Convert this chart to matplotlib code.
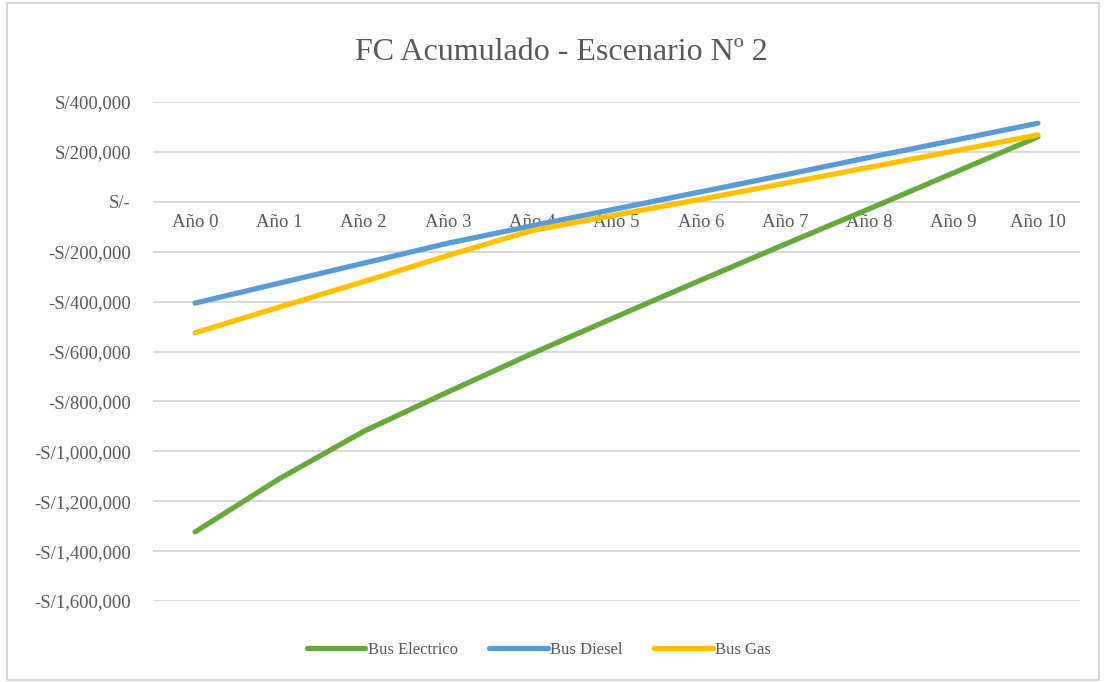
import matplotlib
matplotlib.use("Agg")
import matplotlib.pyplot as plt
from matplotlib.patches import Rectangle
from matplotlib.ticker import FuncFormatter

# Cumulative cash flow per bus type, in soles
years = ["Año 0", "Año 1", "Año 2", "Año 3", "Año 4", "Año 5",
         "Año 6", "Año 7", "Año 8", "Año 9", "Año 10"]
bus_electrico = [-1323000, -1110000, -920000, -762000, -608000, -460000,
                 -314000, -170000, -28000, 116000, 260000]
bus_diesel = [-406000, -326000, -246000, -166000, -96000, -28000,
              40000, 108000, 178000, 246000, 315000]
bus_gas = [-525000, -422000, -320000, -215000, -115000, -52000,
           10000, 74000, 138000, 203000, 268000]

series = [
    ("Bus Electrico", bus_electrico, "#67a93c"),
    ("Bus Diesel", bus_diesel, "#5b9bd5"),
    ("Bus Gas", bus_gas, "#ffc000"),
]

serif = ["Liberation Serif", "DejaVu Serif"]
text_color = "#595959"

fig = plt.figure(figsize=(11.05, 6.82), dpi=100)
fig.patch.set_facecolor("white")

# Light outer frame around the chart area
fig.patches.append(Rectangle((7 / 1105, 2 / 682), 1092 / 1105, 677 / 682,
                             transform=fig.transFigure, fill=False,
                             edgecolor="#d0d0d0", linewidth=1.2))

ax = fig.add_axes([153 / 1105, (682 - 601) / 682, 927 / 1105, 499 / 682])

x = list(range(len(years)))
for name, values, color in series:
    ax.plot(x, values, color=color, linewidth=3.8, solid_capstyle="round",
            label=name, zorder=3)

ax.set_xlim(-0.5, len(years) - 0.5)
ax.set_ylim(-1600000, 400000)
ax.set_yticks(range(-1600000, 400001, 200000))


def soles(v, pos):
    if v == 0:
        return "S/-"
    sign = "-" if v < 0 else ""
    return f"{sign}S/{abs(v):,.0f}"


ax.yaxis.set_major_formatter(FuncFormatter(soles))
ax.grid(axis="y", color="#d9d9d9", linewidth=1.4, zorder=0)
ax.tick_params(axis="y", length=0, pad=16, labelcolor=text_color,
               labelsize=13.5)
for lbl in ax.get_yticklabels():
    lbl.set_fontfamily(serif)
ax.set_xticks([])
for spine in ax.spines.values():
    spine.set_visible(False)

# Category labels sit just below the zero line
for xi, label in zip(x, years):
    ax.annotate(label, xy=(xi, 0), xytext=(0, -15), textcoords="offset points",
                ha="center", va="center", fontsize=13.5, color=text_color,
                family=serif, zorder=2)

fig.text(561 / 1105, 1 - 53 / 682, "FC Acumulado - Escenario Nº 2",
         ha="center", va="center", fontsize=23, color=text_color,
         family=serif)

leg = fig.legend(loc="center", bbox_to_anchor=(539 / 1105, 1 - 650 / 682),
                 ncol=3, frameon=False, handlelength=3.5, handletextpad=0.15,
                 columnspacing=1.9, prop={"family": serif, "size": 12})
for t in leg.get_texts():
    t.set_color(text_color)

fig.savefig("out.png", dpi=100)
